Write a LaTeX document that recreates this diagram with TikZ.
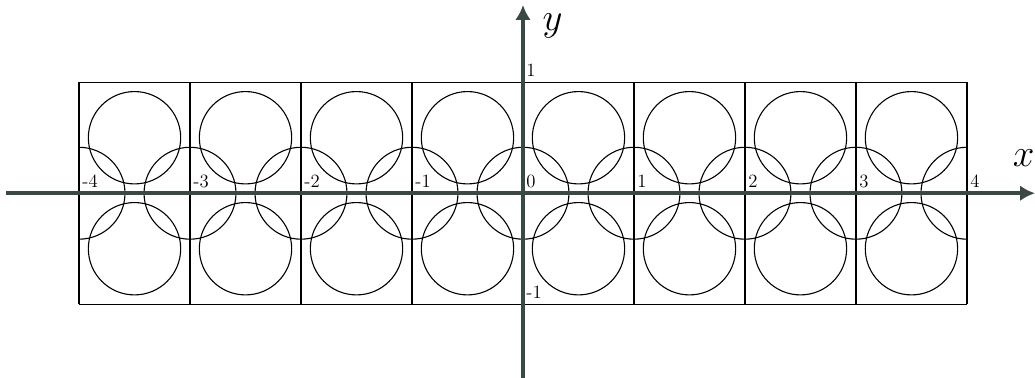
\documentclass[tikz,border=0pt]{standalone}
\usetikzlibrary{arrows.meta}
\definecolor{axiscol}{RGB}{58,72,70}
\tikzset{
  gridline/.style={line width=0.7pt, black},
  ring/.style={line width=0.7pt, black},
  axisline/.style={line width=2.8pt, axiscol, -{Latex[length=9.5pt,width=10pt]}},
  ticklabel/.style={anchor=south west, inner xsep=2pt, inner ysep=3.3pt, font=\large},
  axislabel/.style={anchor=base west, inner sep=0pt, font=\Huge}
}
\begin{document}
\begin{tikzpicture}[x=2.5cm,y=2.5cm]
\useasboundingbox (-4.712,-1.664) rectangle (4.613,1.741);
% grid
\foreach \k in {-4,...,4} {
  \draw[gridline] (\k,-1) -- (\k,1);
}
\foreach \j in {-1,0,1} {
  \draw[gridline] (-4,\j) -- (4,\j);
}
% circles clipped to the strip
\begin{scope}
  \clip (-4,-1) rectangle (4,1);
  \foreach \k in {-4,...,3} {
    \draw[ring] (\k+0.5,0.5) circle[radius=0.416];
    \draw[ring] (\k+0.5,-0.5) circle[radius=0.416];
  }
  \foreach \k in {-4,...,4} {
    \draw[ring] (\k,0) circle[radius=0.414];
  }
\end{scope}
% axes
\coordinate (xs) at (-4.66,0);
\coordinate (xe) at (4.613,0);
\coordinate (ys) at (0,-1.664);
\coordinate (ye) at (0,1.696);
\draw[axisline] (xs) -- (xe);
\draw[axisline] (ys) -- (ye);
% tick labels
\foreach \k in {-4,...,4} {
  \node[ticklabel] (t\k) at (\k,0) {\k};
}
\node[ticklabel] (ty1) at (0,1) {1};
\node[ticklabel] (tym1) at (0,-1) {-1};
% axis labels
\node[axislabel] (xl) at (4.41,0.237) {$x$};
\node[axislabel] (yl) at (0.175,1.47) {$y$};
\end{tikzpicture}
\end{document}
